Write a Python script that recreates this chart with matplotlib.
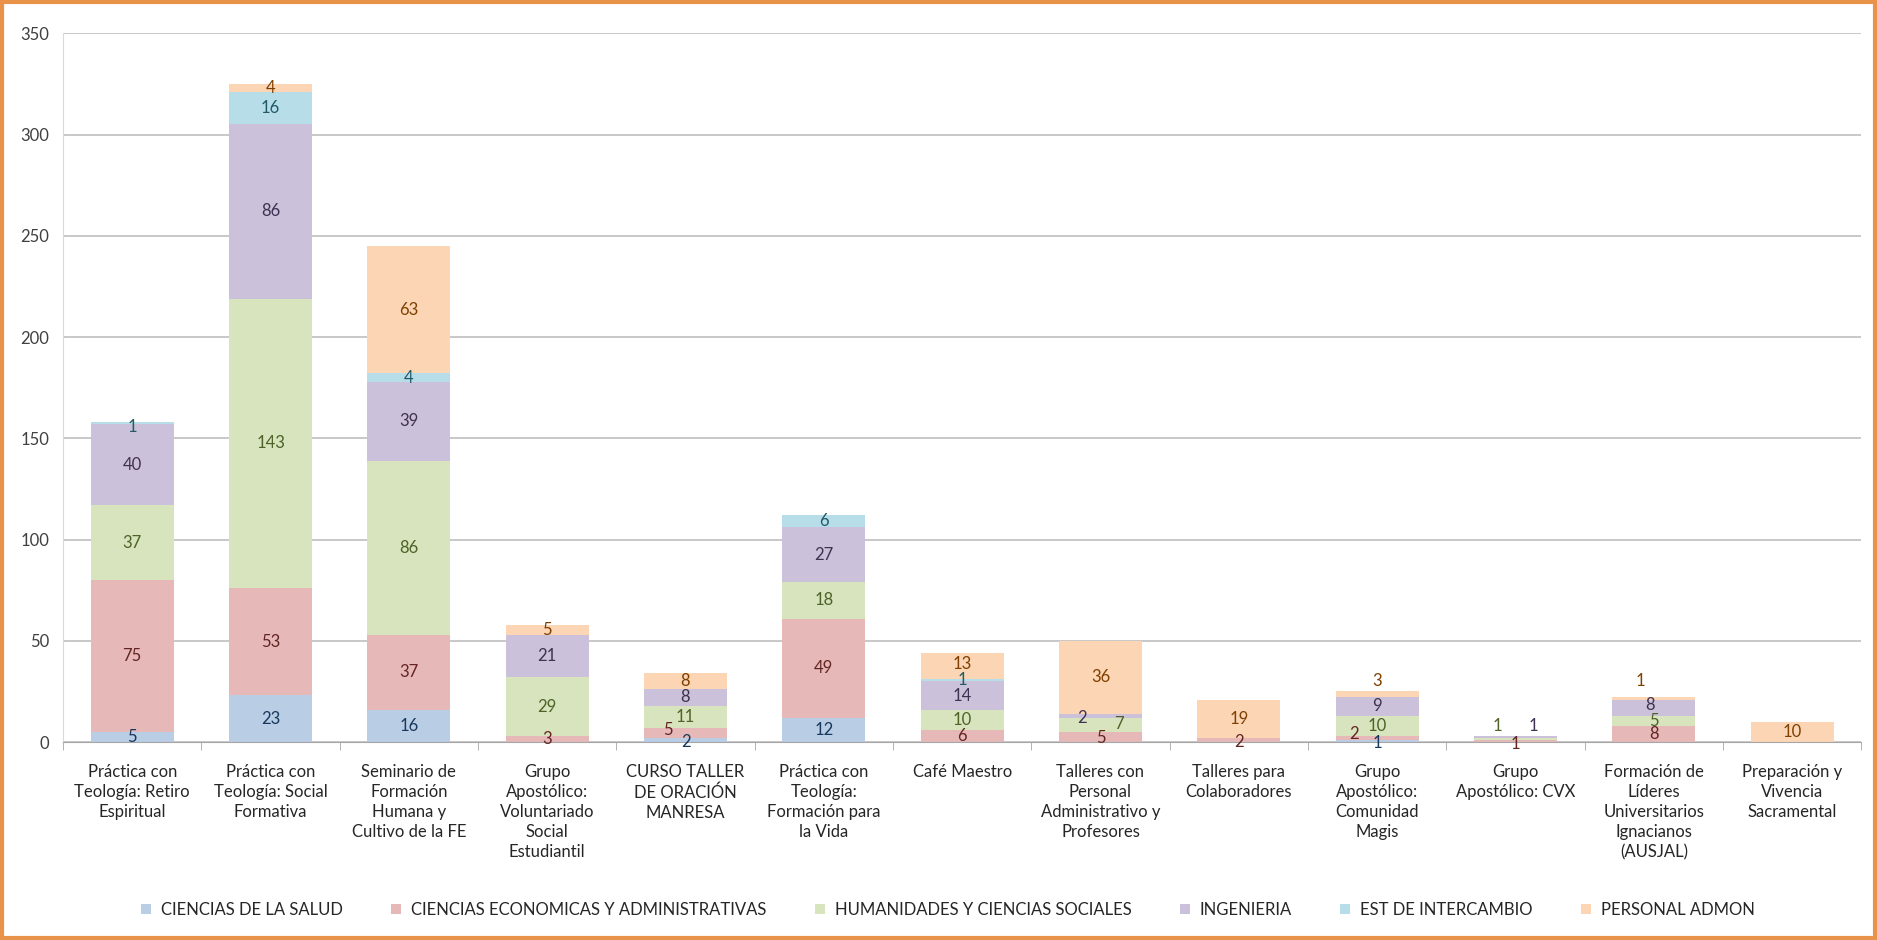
import matplotlib.pyplot as plt
from matplotlib.patches import Rectangle
import numpy as np

plt.rcParams['font.family'] = ['Lato', 'DejaVu Sans']

categories = [
    'Práctica con\nTeología: Retiro\nEspiritual',
    'Práctica con\nTeología: Social\nFormativa',
    'Seminario de\nFormación\nHumana y\nCultivo de la FE',
    'Grupo\nApostólico:\nVoluntariado\nSocial\nEstudiantil',
    'CURSO TALLER\nDE ORACIÓN\nMANRESA',
    'Práctica con\nTeología:\nFormación para\nla Vida',
    'Café Maestro',
    'Talleres con\nPersonal\nAdministrativo y\nProfesores',
    'Talleres para\nColaboradores',
    'Grupo\nApostólico:\nComunidad\nMagis',
    'Grupo\nApostólico: CVX',
    'Formación de\nLíderes\nUniversitarios\nIgnacianos\n(AUSJAL)',
    'Preparación y\nVivencia\nSacramental',
]

series_names = ['CIENCIAS DE LA SALUD', 'CIENCIAS ECONOMICAS Y ADMINISTRATIVAS',
                'HUMANIDADES Y CIENCIAS SOCIALES', 'INGENIERIA',
                'EST DE INTERCAMBIO', 'PERSONAL ADMON']

salud = [5, 23, 16, 0, 2, 12, 0, 0, 0, 1, 0, 0, 0]
economicas = [75, 53, 37, 3, 5, 49, 6, 5, 2, 2, 1, 8, 0]
humanidades = [37, 143, 86, 29, 11, 18, 10, 7, 0, 10, 1, 5, 0]
ingenieria = [40, 86, 39, 21, 8, 27, 14, 2, 0, 9, 1, 8, 0]
intercambio = [1, 16, 4, 0, 0, 6, 1, 0, 0, 0, 0, 0, 0]
personal = [0, 4, 63, 5, 8, 0, 13, 36, 19, 3, 0, 1, 10]

series = [salud, economicas, humanidades, ingenieria, intercambio, personal]
fills = ['#b9cde5', '#e6b9b8', '#d7e4bd', '#ccc1da', '#b7dee8', '#fcd5b5']
text_cols = ['#17375e', '#632523', '#4f6228', '#3f3151', '#215968', '#7f3f00']

# label nudges for the tiny segments: (category, series) -> (dx, y)
label_pos = {
    (0, 4): (0, 155.5),
    (4, 0): (0, 0), (4, 1): (-0.13, 6),
    (6, 3): (0, 22.5), (6, 4): (0, 30.5), (6, 5): (0, 38.5),
    (7, 1): (0, 2), (7, 2): (0.13, 9), (7, 3): (-0.13, 12),
    (8, 1): (0, 0),
    (9, 0): (0, -0.5), (9, 1): (-0.17, 4), (9, 2): (0, 8), (9, 3): (0, 18), (9, 5): (0, 30),
    (10, 1): (0, -1), (10, 2): (-0.13, 8), (10, 3): (0.13, 8),
    (11, 1): (0, 4), (11, 2): (0, 10.5), (11, 3): (-0.03, 18.5), (11, 5): (-0.1, 30),
}

fig = plt.figure(figsize=(18.77, 9.40), dpi=100)
ax = fig.add_axes([0.0336, 0.2106, 0.958, 0.754])

x = np.arange(len(categories))
bottom = np.zeros(len(categories))
for si, (vals, name, fc, tc) in enumerate(zip(series, series_names, fills, text_cols)):
    vals = np.array(vals, dtype=float)
    ax.bar(x, vals, 0.6, bottom=bottom, color=fc, label=name, zorder=2)
    for ci, (xi, v, b) in enumerate(zip(x, vals, bottom)):
        if v > 0:
            dx, ty = label_pos.get((ci, si), (0, b + v / 2))
            ax.text(xi + dx, ty, f'{int(v)}', ha='center', va='center',
                    fontsize=12, color=tc, zorder=3)
    bottom += vals

ax.set_xlim(-0.5, len(categories) - 0.5)
ax.set_ylim(0, 350)
ax.set_yticks(range(0, 351, 50))
ax.yaxis.grid(True, color='#bfbfbf', linewidth=1.2, zorder=0)
ax.set_axisbelow(True)

ax.set_xticks(x)
ax.set_xticklabels(categories, fontsize=12, color='#262626', va='top', linespacing=1.3)
ax.tick_params(axis='x', which='major', length=0, pad=16)
ax.set_xticks(np.arange(-0.5, len(categories), 1), minor=True)
ax.tick_params(axis='x', which='minor', length=6, color='#a6a6a6')
ax.tick_params(axis='y', length=0, labelsize=12, labelcolor='#404040', pad=10)

for s in ['top', 'right']:
    ax.spines[s].set_visible(False)
ax.spines['left'].set_color('#d9d9d9')
ax.spines['bottom'].set_color('#a6a6a6')

fig.legend(loc='center', bbox_to_anchor=(0.505, 0.032), ncol=6, frameon=False,
           fontsize=12, handlelength=0.6, handleheight=0.6, columnspacing=2.9,
           handletextpad=0.6, labelcolor='#262626')

fig.patches.append(Rectangle((0.001, 0.002), 0.998, 0.996, transform=fig.transFigure,
                             fill=False, edgecolor='#e8924a', linewidth=3))

fig.savefig('out.png', dpi=100)
